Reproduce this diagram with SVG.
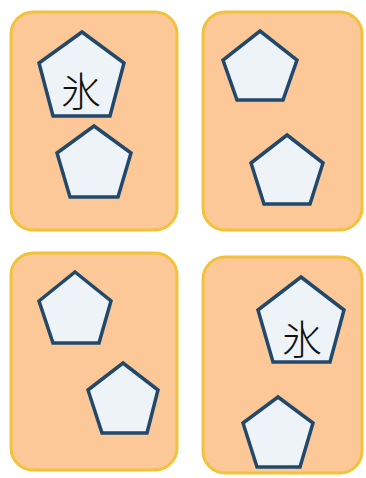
<svg xmlns="http://www.w3.org/2000/svg" width="366" height="478" viewBox="0 0 366 478">
<style>
.card{fill:#FDC898;stroke:#F2C23A;stroke-width:3}
.pent{fill:#EEF3F8;stroke:#22496B;stroke-width:3.5;stroke-linejoin:miter}
.lbl{font-family:"Noto Sans CJK JP","Noto Sans CJK SC",sans-serif;font-size:40px;font-weight:300;fill:#111;text-anchor:middle;dominant-baseline:central}
</style>
<rect width="366" height="478" fill="#FFFFFF"/>
<g id="card1">
<rect class="card" x="11" y="12" width="166" height="218" rx="22"/>
<g id="p1"><polygon class="pent" points="82,32 124,63 110,116 53,116 39,63"/><text class="lbl" x="81" y="89">氷</text></g>
<g id="p2"><polygon class="pent" points="94,126 131,153 118,197 70,197 57,153"/></g>
</g>
<g id="card2">
<rect class="card" x="203" y="12" width="159" height="218" rx="22"/>
<g id="p3"><polygon class="pent" points="260,31 297,60 283,100 237,100 223,60"/></g>
<g id="p4"><polygon class="pent" points="287,135 323,163 310,204 264,204 251,163"/></g>
</g>
<g id="card3">
<rect class="card" x="11" y="253" width="166" height="217" rx="22"/>
<g id="p5"><polygon class="pent" points="75,272 111,301 99,343 53,343 39,301"/></g>
<g id="p6"><polygon class="pent" points="123,363 158,390 147,433 102,433 88,390"/></g>
</g>
<g id="card4">
<rect class="card" x="203" y="257" width="159" height="216" rx="22"/>
<g id="p7"><polygon class="pent" points="301,277 344,310 330,362 273,362 258,310"/><text class="lbl" x="302" y="337">氷</text></g>
<g id="p8"><polygon class="pent" points="278,397 313,423 300,467 257,467 243,423"/></g>
</g>
<g id="connectors"></g>
</svg>
